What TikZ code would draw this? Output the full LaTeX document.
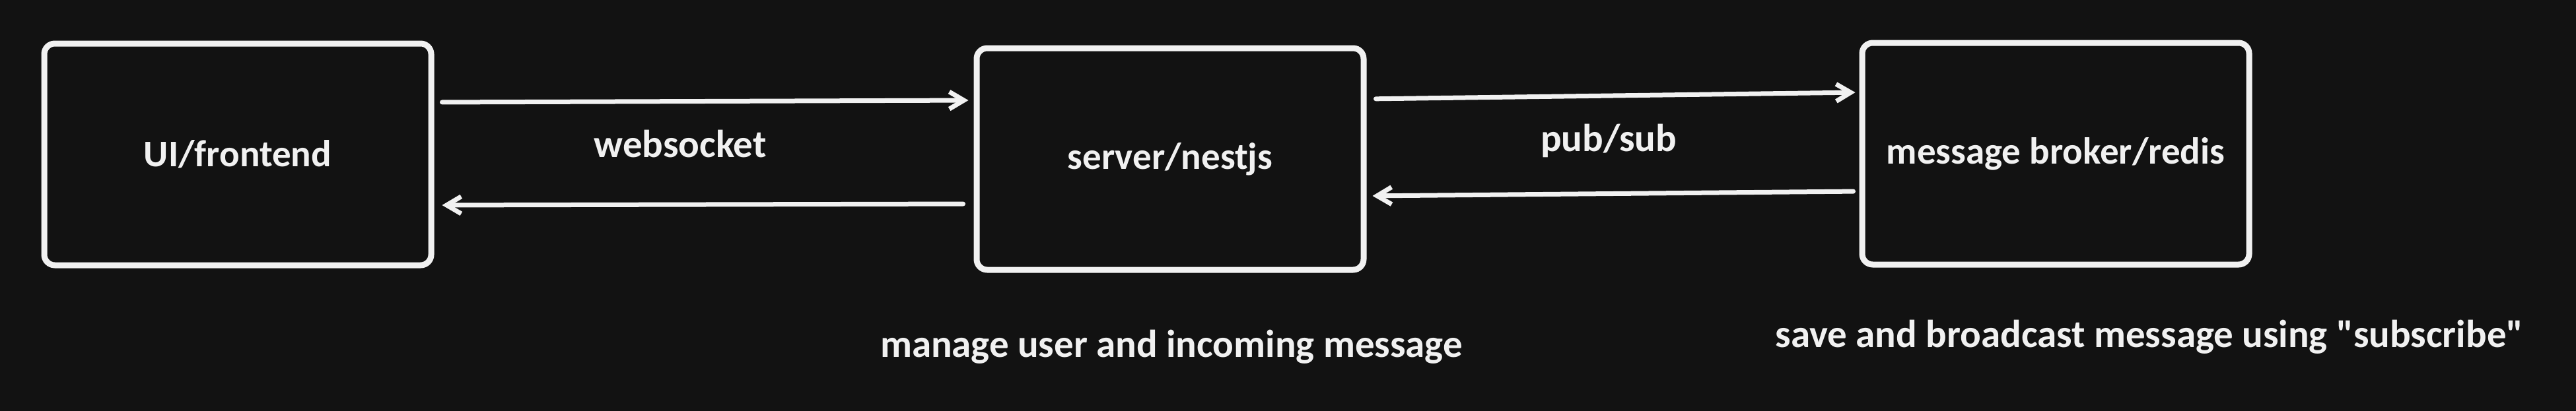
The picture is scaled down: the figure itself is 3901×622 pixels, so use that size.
\documentclass[tikz,border=0pt]{standalone}
\usepackage{fontspec}
\setmainfont{Carlito}
\usetikzlibrary{arrows.meta}
\usepackage[rgb]{xcolor}
\definecolor{fg}{HTML}{F1F1F1}
\definecolor{bg}{HTML}{121212}

\begin{document}
\begin{tikzpicture}[x=1pt, y=-1pt,
  block/.style = {draw=fg, line width=9pt, rounded corners=16pt,
    minimum width=586pt, minimum height=336pt, inner sep=0pt,
    text=fg, font=\bfseries\fontsize{57}{68}\selectfont},
  note/.style = {text=fg, anchor=base, inner sep=0pt,
    font=\bfseries\fontsize{59}{70}\selectfont},
  link/.style = {draw=fg, line width=7pt, line cap=round,
    -{Straight Barb[length=22pt, width=26pt]}}]

  \useasboundingbox (0,0) rectangle (3901,622);
  \fill[fill=bg] (-10,-10) rectangle (3911,632);

  % the three parts
  \node[block] (ui) at (360,234) {UI/frontend};
  \node[block] (server) at (1772,241) {server/nestjs};
  \node[block] (broker) at (3113,233) {message broker/redis};

  % ui <-> server
  \draw[link, shorten <=12pt, shorten >=8pt] ([yshift=79pt]ui.east) -- ([yshift=89pt]server.west);
  \draw[link, shorten <=16pt, shorten >=12pt] ([yshift=-68pt]server.west) -- ([yshift=-77pt]ui.east);
  \node[note] (ws) at (1030,238) {websocket};

  % server <-> broker
  \draw[link, shorten <=14pt, shorten >=6pt] ([yshift=91pt]server.east) -- ([yshift=93pt]broker.west);
  \draw[link, shorten <=9pt, shorten >=9pt] ([yshift=-57pt]broker.west) -- ([yshift=-56pt]server.east);
  \node[note] (ps) at (2436,229) {pub/sub};

  % what each part does
  \node[note] (manage) at (1774,541) {manage user and incoming message};
  \node[note] (save) at (3255,526) {save and broadcast message using \textquotedbl subscribe\textquotedbl};

\end{tikzpicture}
\end{document}
